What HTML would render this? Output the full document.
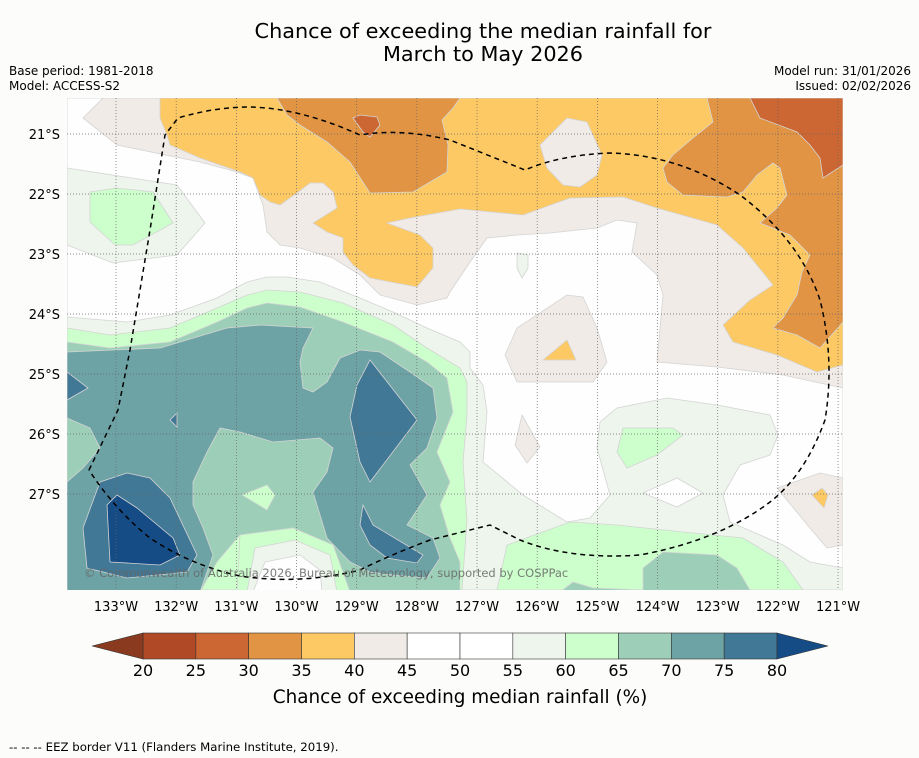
<!DOCTYPE html>
<html><head><meta charset="utf-8"><style>
html,body{margin:0;padding:0;background:#fcfdfb;}
svg{display:block;font-family:"DejaVu Sans","Liberation Sans",sans-serif;}
</style></head><body>
<svg width="919" height="758" viewBox="0 0 919 758">
<rect x="0" y="0" width="919" height="758" fill="#fcfdfb"/>
<text x="483" y="38" font-size="20.8" text-anchor="middle" fill="#000">Chance of exceeding the median rainfall for</text>
<text x="483" y="61" font-size="20.8" text-anchor="middle" fill="#000">March to May 2026</text>
<text x="9" y="75" font-size="12">Base period: 1981-2018</text>
<text x="9" y="90" font-size="12">Model: ACCESS-S2</text>
<text x="911" y="75" font-size="12" text-anchor="end">Model run: 31/01/2026</text>
<text x="911" y="90" font-size="12" text-anchor="end">Issued: 02/02/2026</text>

<defs><clipPath id="mapclip"><rect x="67" y="98" width="776" height="492"/></clipPath></defs>
<g clip-path="url(#mapclip)" stroke="#d4d4d4" stroke-width="0.8">
<rect x="67" y="98" width="776" height="492" fill="#fdfefd"/>
<polygon fill="#f0ebe6" points="103,98 83,118 117,145 200,162 237,172 253,178 263,205 267,232 280,245 300,248 333,258 360,275 380,295 417,305 447,298 450,292 470,262 487,238 517,235 550,233 597,228 617,220 637,223 632,252 657,275 663,295 657,362 717,367 783,375 843,388 843,98"/>
<polygon fill="#fdc964" points="160,98 160,118 167,135 170,145 200,158 240,172 253,178 260,195 270,202 280,205 297,193 310,183 323,183 333,192 337,208 313,223 327,232 343,238 343,252 353,265 370,278 417,287 433,268 433,248 420,235 387,223 410,218 460,209 523,215 570,198 623,197 657,208 717,225 743,248 773,285 750,300 723,325 733,342 777,355 817,372 843,365 843,98"/>
<polygon fill="#f0ebe6" points="540,145 567,118 587,122 602,155 597,175 580,187 563,185 547,168"/>
<polygon fill="#e09444" points="277,98 287,115 300,125 327,142 350,162 370,193 413,192 447,172 448,145 442,120 453,108 460,98"/>
<polygon fill="#e09444" points="707,98 713,122 693,138 673,155 663,168 667,182 683,195 727,197 743,192 757,175 773,163 780,168 787,195 777,208 760,223 790,235 810,255 802,272 797,295 783,318 773,328 797,335 820,348 843,322 843,98"/>
<polygon fill="#cc6633" points="750,98 760,118 797,132 810,145 820,158 823,178 843,165 843,98"/>
<polygon fill="#cc6633" points="353,118 360,115 377,117 380,125 370,137 363,132"/>
<polygon fill="#f0ebe6" points="505,355 517,328 567,295 583,297 597,328 607,362 593,382 517,382"/>
<polygon fill="#fdc964" points="543,360 567,340 576,360"/>
<polygon fill="#f0ebe6" points="522,415 540,447 527,463 515,445"/>
<polygon fill="#f0ebe6" points="777,488 820,473 843,478 843,545 827,548 810,528"/>
<polygon fill="#fdc964" points="812,495 822,488 828,495 824,508"/>
<polygon fill="#edf5ec" points="517,253 528,255 528,268 522,278 517,268"/>
<polygon fill="#edf5ec" points="67,168 177,185 205,223 177,255 113,263 67,245"/>
<polygon fill="#ccffcc" points="90,192 117,188 153,192 173,223 133,245 115,245 90,222"/>
<polygon fill="#edf5ec" points="67,317 127,322 170,315 217,298 247,282 267,277 287,277 320,282 360,298 393,312 427,328 460,342 470,352 470,368 483,385 487,412 483,462 523,495 567,522 590,518 610,495 597,448 600,422 617,408 667,398 717,405 770,415 778,435 770,455 740,465 723,495 730,522 783,545 810,562 843,568 843,590 67,590"/>
<polygon fill="#fdfefd" points="643,493 677,478 703,493 677,507"/>
<polygon fill="#ccffcc" points="67,328 110,335 170,328 217,308 247,295 267,290 300,292 343,303 393,325 427,348 460,368 467,382 467,415 463,462 467,520 462,590 67,590"/>
<polygon fill="#ccffcc" points="497,590 507,545 570,522 617,525 683,532 743,538 783,562 803,590"/>
<polygon fill="#ccffcc" points="617,452 623,428 673,428 683,435 657,455 627,468"/>
<polygon fill="#9dcfb8" points="67,342 110,348 170,342 217,322 247,308 267,303 300,307 343,322 393,342 427,362 447,378 453,412 437,452 450,482 440,505 450,538 460,562 460,592 350,592 333,545 293,528 240,535 217,562 200,592 67,592"/>
<polygon fill="#ccffcc" points="237,592 240,535 293,528 333,545 350,592"/>
<polygon fill="#edf5ec" points="247,592 255,548 295,540 330,555 337,592"/>
<polygon fill="#fdfefd" points="253,592 265,562 300,555 320,570 322,592"/>
<polygon fill="#ccffcc" points="242,495 267,485 275,495 267,510"/>
<polygon fill="#9dcfb8" points="643,568 663,552 717,555 737,568 750,590 560,592 573,582 593,588 643,590"/>
<polygon fill="#6ea3a6" points="67,352 160,348 227,328 260,325 313,328 303,348 300,362 303,388 313,392 327,382 340,358 360,350 380,352 410,372 433,388 437,418 427,448 410,465 427,495 407,525 433,538 440,558 427,578 393,575 370,572 350,562 327,538 313,492 327,472 333,448 320,438 273,442 240,432 220,428 207,452 193,482 193,505 203,528 213,555 200,592 67,592 67,482 83,468 100,448 90,428 67,418"/>
<polygon fill="#417896" points="67,372 88,388 67,400"/>
<polygon fill="#417896" points="370,360 417,420 370,482 360,462 350,417 357,385"/>
<polygon fill="#417896" points="363,505 373,525 423,555 417,563 387,558 370,545 360,525"/>
<polygon fill="#417896" points="170,420 177,413 177,427"/>
<polygon fill="#417896" points="83,528 100,482 127,473 150,478 170,498 197,555 187,572 127,578 87,568"/>
<polygon fill="#154c86" points="107,505 117,495 137,508 173,538 180,555 160,565 110,562"/>
</g>
<g id="grid"></g>
<path fill="none" stroke="#000" stroke-width="1.5" stroke-dasharray="5,4" d="M89,470 L118,410 L130,350 L150,230 L165,135 L178,118 Q215,107 250,107 Q300,108 360,135 Q400,128 450,140 L525,170 Q560,155 610,153 Q680,155 740,195 Q800,240 820,300 Q835,360 825,420 Q805,475 770,502 Q720,540 640,555 Q570,560 520,540 L490,525 L430,540 Q390,555 360,570 Q300,585 240,576 Q190,565 150,538 Q115,510 89,470"/>
<text x="84" y="577" font-size="11.5" fill="#666" fill-opacity="0.85">© Commonwealth of Australia 2026, Bureau of Meteorology, supported by COSPPac</text>
<g id="axes"></g>
<g id="colorbar"></g>
<text x="460" y="703" font-size="18.4" text-anchor="middle">Chance of exceeding median rainfall (%)</text>
<text x="9" y="751" font-size="11.75">--  --  -- EEZ border V11 (Flanders Marine Institute, 2019).</text>
</svg>
<script>
const lonTicks = [133,132,131,130,129,128,127,126,125,124,123,122,121];
const latTicks = [21,22,23,24,25,26,27];
const cbLevels = [20,25,30,35,40,45,50,55,60,65,70,75,80];
const cbColors = ["#b04a26","#cc6633","#e09444","#fdc964","#f0ebe6","#ffffff","#ffffff","#edf5ec","#ccffcc","#9dcfb8","#6ea3a6","#417896"];
const cbUnder = "#8a3a1f";
const cbOver = "#154c86";
const NS = "http://www.w3.org/2000/svg";
const xLon = w => 116 + (133 - w) * 60.17;
const yLat = s => 134 + (s - 21) * 60;
const xCb = v => 143 + (v - 20) * (634 / 60);
function mk(tag, attrs, parent){const e=document.createElementNS(NS,tag);for(const k in attrs)e.setAttribute(k,attrs[k]);parent.appendChild(e);return e;}
const grid=document.getElementById('grid'), axes=document.getElementById('axes'), cb=document.getElementById('colorbar');
lonTicks.forEach(w=>{
  const x=xLon(w);
  const l=mk('line',{x1:x,y1:98,x2:x,y2:590,stroke:'#666','stroke-width':0.7,'stroke-dasharray':'1,2'},grid);
  
  
  const t=mk('text',{x:x,y:611,'font-size':13,'text-anchor':'middle'},axes);
  t.textContent=w+'°W';
  
  
});
latTicks.forEach(s=>{
  const y=yLat(s);
  const l=mk('line',{x1:67,y1:y,x2:843,y2:y,stroke:'#666','stroke-width':0.7,'stroke-dasharray':'1,2'},grid);
  
  
  const t=mk('text',{x:60,y:y+5,'font-size':13,'text-anchor':'end'},axes);
  t.textContent=s+'°S';
  
  
});
cbColors.forEach((c,i)=>{
  const x0=xCb(cbLevels[i]), x1=xCb(cbLevels[i+1]);
  const r=mk('rect',{x:x0,y:633,width:x1-x0,height:26,fill:c,stroke:'#333','stroke-width':0.6},cb);
  
  
});
const tl=mk('polygon',{points:`${xCb(20)},633 92,646 ${xCb(20)},659`,fill:cbUnder,stroke:'#333','stroke-width':0.6},cb);


const tr=mk('polygon',{points:`${xCb(80)},633 828,646 ${xCb(80)},659`,fill:cbOver,stroke:'#333','stroke-width':0.6},cb);


cbLevels.forEach(v=>{
  const t=mk('text',{x:xCb(v),y:676,'font-size':16,'text-anchor':'middle'},cb);
  t.textContent=v;
  
  
});
</script>
</body></html>
